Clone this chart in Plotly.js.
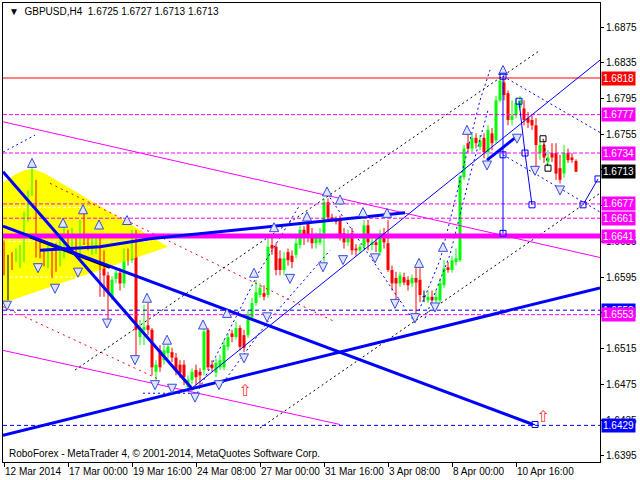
<!DOCTYPE html>
<html><head><meta charset="utf-8">
<script src="https://cdn.plot.ly/plotly-3.0.1.min.js"></script>
<style>html,body{margin:0;padding:0;background:#fff}#chart{width:640px;height:480px}</style>
</head><body><div id="chart"></div>
<script>
// ---- OHLC data (GBPUSD H4), bar index 0..143 ----
const openP = [
1.6634,1.6617,1.6617,1.6617,1.6616,1.6617,1.6662,1.6689,1.6700,1.6631,
1.6623,1.6611,1.6616,1.6629,1.6614,1.6622,1.6642,1.6631,1.6636,1.6625,
1.6653,1.6636,1.6625,1.6625,1.6634,1.6608,1.6597,1.6573,1.6593,1.6600,
1.6588,1.6622,1.6614,1.6644,1.6528,1.6536,1.6541,1.6536,1.6489,1.6513,
1.6502,1.6510,1.6511,1.6505,1.6497,1.6497,1.6472,1.6480,1.6491,1.6489,
1.6491,1.6536,1.6497,1.6488,1.6494,1.6494,1.6517,1.6532,1.6528,1.6538,
1.6530,1.6530,1.6550,1.6566,1.6575,1.6577,1.6575,1.6631,1.6629,1.6616,
1.6603,1.6623,1.6619,1.6620,1.6631,1.6648,1.6657,1.6642,1.6633,1.6634,
1.6644,1.6679,1.6662,1.6659,1.6659,1.6644,1.6634,1.6644,1.6627,1.6625,
1.6629,1.6653,1.6631,1.6634,1.6623,1.6644,1.6633,1.6603,1.6594,1.6588,
1.6595,1.6592,1.6588,1.6594,1.6592,1.6573,1.6569,1.6573,1.6569,1.6569,
1.6586,1.6606,1.6603,1.6612,1.6614,1.6707,1.6745,1.6739,1.6751,1.6741,
1.6751,1.6735,1.6756,1.6748,1.6793,1.6813,1.6801,1.6771,1.6776,1.6785,
1.6784,1.6773,1.6771,1.6765,1.6734,1.6743,1.6724,1.6734,1.6734,1.6717,
1.6711,1.6734,1.6729,1.6725];
const highP = [
1.6636,1.6620,1.6623,1.6627,1.6631,1.6668,1.6692,1.6717,1.6704,1.6639,
1.6627,1.6633,1.6625,1.6633,1.6642,1.6653,1.6648,1.6650,1.6641,1.6659,
1.6670,1.6641,1.6642,1.6641,1.6639,1.6625,1.6601,1.6596,1.6605,1.6605,
1.6627,1.6627,1.6648,1.6648,1.6547,1.6564,1.6566,1.6538,1.6502,1.6519,
1.6519,1.6521,1.6516,1.6510,1.6502,1.6502,1.6485,1.6493,1.6497,1.6493,
1.6538,1.6538,1.6502,1.6504,1.6508,1.6525,1.6532,1.6536,1.6545,1.6541,
1.6536,1.6558,1.6572,1.6592,1.6588,1.6586,1.6642,1.6639,1.6633,1.6625,
1.6623,1.6627,1.6625,1.6639,1.6653,1.6652,1.6661,1.6650,1.6645,1.6650,
1.6683,1.6683,1.6666,1.6663,1.6664,1.6650,1.6648,1.6650,1.6632,1.6632,
1.6659,1.6659,1.6639,1.6639,1.6648,1.6650,1.6659,1.6608,1.6601,1.6601,
1.6600,1.6596,1.6598,1.6605,1.6605,1.6580,1.6580,1.6580,1.6580,1.6594,
1.6614,1.6612,1.6619,1.6627,1.6709,1.6743,1.6756,1.6756,1.6756,1.6754,
1.6756,1.6765,1.6762,1.6798,1.6818,1.6817,1.6804,1.6793,1.6795,1.6798,
1.6793,1.6780,1.6776,1.6773,1.6748,1.6748,1.6737,1.6745,1.6745,1.6732,
1.6743,1.6739,1.6734,1.6727];
const lowP = [
1.6597,1.6569,1.6603,1.6612,1.6605,1.6612,1.6657,1.6686,1.6617,1.6616,
1.6607,1.6605,1.6594,1.6601,1.6607,1.6616,1.6625,1.6625,1.6620,1.6620,
1.6631,1.6625,1.6620,1.6621,1.6573,1.6573,1.6544,1.6569,1.6588,1.6580,
1.6583,1.6608,1.6611,1.6505,1.6519,1.6519,1.6530,1.6485,1.6478,1.6489,
1.6497,1.6504,1.6500,1.6485,1.6482,1.6474,1.6466,1.6475,1.6474,1.6471,
1.6485,1.6491,1.6489,1.6483,1.6491,1.6491,1.6513,1.6522,1.6525,1.6513,
1.6511,1.6527,1.6547,1.6563,1.6572,1.6569,1.6572,1.6620,1.6597,1.6597,
1.6597,1.6608,1.6605,1.6616,1.6627,1.6631,1.6634,1.6627,1.6627,1.6631,
1.6612,1.6659,1.6657,1.6654,1.6636,1.6627,1.6630,1.6620,1.6619,1.6622,
1.6625,1.6625,1.6625,1.6623,1.6619,1.6627,1.6601,1.6580,1.6569,1.6584,
1.6586,1.6580,1.6584,1.6553,1.6567,1.6567,1.6566,1.6566,1.6566,1.6566,
1.6583,1.6600,1.6600,1.6608,1.6612,1.6704,1.6735,1.6735,1.6739,1.6737,
1.6728,1.6726,1.6737,1.6745,1.6791,1.6793,1.6765,1.6765,1.6773,1.6782,
1.6765,1.6762,1.6760,1.6717,1.6726,1.6723,1.6719,1.6724,1.6704,1.6700,
1.6706,1.6723,1.6723,1.6713];
const closeP = [
1.6614,1.6617,1.6608,1.6623,1.6625,1.6662,1.6689,1.6700,1.6627,1.6623,
1.6614,1.6627,1.6612,1.6606,1.6636,1.6648,1.6633,1.6642,1.6625,1.6651,
1.6636,1.6631,1.6636,1.6636,1.6605,1.6597,1.6578,1.6592,1.6600,1.6588,
1.6623,1.6614,1.6644,1.6536,1.6538,1.6539,1.6536,1.6494,1.6497,1.6494,
1.6513,1.6517,1.6505,1.6491,1.6488,1.6483,1.6480,1.6489,1.6483,1.6485,
1.6534,1.6494,1.6493,1.6499,1.6502,1.6519,1.6528,1.6528,1.6538,1.6517,
1.6516,1.6553,1.6566,1.6578,1.6583,1.6573,1.6629,1.6627,1.6603,1.6603,
1.6616,1.6614,1.6612,1.6633,1.6648,1.6639,1.6640,1.6633,1.6639,1.6644,
1.6679,1.6662,1.6659,1.6657,1.6642,1.6634,1.6642,1.6625,1.6625,1.6629,
1.6653,1.6634,1.6634,1.6631,1.6642,1.6634,1.6603,1.6588,1.6588,1.6597,
1.6589,1.6586,1.6594,1.6589,1.6575,1.6573,1.6573,1.6569,1.6573,1.6588,
1.6605,1.6603,1.6614,1.6616,1.6707,1.6739,1.6739,1.6751,1.6745,1.6748,
1.6735,1.6760,1.6745,1.6793,1.6815,1.6799,1.6771,1.6776,1.6790,1.6793,
1.6771,1.6768,1.6765,1.6743,1.6743,1.6729,1.6729,1.6729,1.6711,1.6704,
1.6734,1.6726,1.6726,1.6713];

// ---- axis ticks ----
const xTickIdx = [0,16,32,48,64,80,96,112,128];
const xTickText = ['12 Mar 2014','17 Mar 00:00','19 Mar 16:00','24 Mar 08:00','27 Mar 00:00','31 Mar 16:00','3 Apr 08:00','8 Apr 00:00','10 Apr 16:00'];
const yTicks = [1.6875,1.6835,1.6795,1.6755,1.6715,1.6675,1.6635,1.6595,1.6555,1.6515,1.6475,1.6435,1.6395];
// tick labels that the price boxes cover completely in the reference
const yTicksHidden = [1.6715,1.6675,1.6555];

// ---- horizontal levels ----
const levelRed = [1.6818];
const levelMagentaDashed = [1.6777,1.6734,1.6677,1.6661,1.6553];
const levelMagentaThick = [1.6641];
const levelBlueDashed = [1.6558,1.6429];
const boxLevels = [1.6818,1.6777,1.6734,1.6713,1.6677,1.6661,1.6641,1.6558,1.6553,1.6429];
const boxColors = ['#ff0000','#ff00ff','#ff00ff','#000000','#ff00ff','#ff00ff','#ff00ff','#0000ff','#ff00ff','#0000ff'];

// ---- drawn objects: [barIndex, price] ----
const yellowZone = [[-0.25,1.6701],[2.75,1.6710],[5.25,1.6715],[7.25,1.6716],[10.25,1.6711],[41,1.6629],[-0.25,1.6566]];
const whiteDashed = [[[-0.25,1.6673],[21.5,1.6673]],[[-0.25,1.6635],[36.5,1.6635]],[[1.5,1.6595],[24,1.6595]]];
const thickBlue = [
  [[-0.25,1.6713],[47.25,1.6469]],
  [[-0.25,1.6652],[132.25,1.6430]],
  [[-0.25,1.6418],[149,1.6583]],
  [[9,1.6625],[24,1.6629],[36.5,1.6638],[100.25,1.6667]],
  [[120.75,1.6726],[127.75,1.6751]]
];
const thickBlack = [[[6.5,1.6640],[26.5,1.6606]]];
const thinBlue = [
  [[46.5,1.6469],[149,1.6838]],
  [[124.75,1.6820],[124.75,1.6644]],
  [[128.75,1.6792],[130.25,1.6734],[132,1.6676]],
  [[144.75,1.6676],[148.5,1.6705]],
  [[132.25,1.6430],[132.75,1.6430]]
];
const blueDashed = [
  [[124.75,1.6820],[149,1.6757]],
  [[124.75,1.6732],[149,1.6668]],
  [[-0.25,1.6735],[7.75,1.6754]],
  [[81.5,1.6684],[102.75,1.6544]],
  [[102.75,1.6547],[109,1.6614],[112.75,1.6681],[119,1.6793],[121.5,1.6827]],
  [[105.25,1.6549],[111.5,1.6620],[116.5,1.6709],[121,1.6782]],
  [[48.25,1.6465],[64,1.6603],[74,1.6676]],
  [[54,1.6472],[65.75,1.6544],[81.5,1.6625]],
  [[34.75,1.6465],[49,1.6465]]
];
const blackDashed = [
  [[17.75,1.6491],[134,1.6849]],
  [[64,1.6426],[149,1.6689]],
  [[134.75,1.6750],[136,1.6717]]
];
const redDotted = [
  [[11.5,1.6700],[82.75,1.6545]],
  [[-0.25,1.6562],[39,1.6480]]
];
const magentaThin = [
  [[-0.25,1.6769],[149,1.6617]],
  [[-0.25,1.6513],[84,1.6430]]
];
const upArrows = [[7,1.6728],[14.75,1.6661],[19.75,1.6676],[23.75,1.6659],[30.75,1.6664],[35.75,1.6577],[40.75,1.6530],[49.75,1.6547],[55.75,1.6560],[62.5,1.6605],[67.5,1.6656],[75.75,1.6668],[80.75,1.6696],[84,1.6687],[89.75,1.6673],[95.75,1.6672],[103.75,1.6616],[109.75,1.6634],[115.75,1.6765],[124.75,1.6832]];
const downArrows = [[0.75,1.6558],[8.5,1.6600],[12.75,1.6577],[18.5,1.6595],[25.75,1.6538],[32.75,1.6497],[37.75,1.6469],[42,1.6465],[47.75,1.6455],[53.75,1.6469],[60,1.6499],[65.75,1.6545],[71.5,1.6588],[79.75,1.6601],[84.75,1.6609],[92.75,1.6611],[97.75,1.6560],[102.75,1.6544],[107.75,1.6556],[120.75,1.6715],[128.25,1.6745],[132.75,1.6709],[139,1.6687]];
const blueSquares = [[124.75,1.6820],[128.75,1.6792],[130.25,1.6734],[132,1.6676],[124.75,1.6732],[124.75,1.6644],[144.75,1.6676],[148.5,1.6705],[132.75,1.6430]];
const blackSquares = [[134.75,1.6750],[136,1.6717]];
const redUpArrows = [[60.25,1.6466],[134.75,1.6437]];

const header = '\u25BC  GBPUSD,H4  1.6725 1.6727 1.6713 1.6713';
const footer = 'RoboForex - MetaTrader 4, \u00A9 2001-2014, MetaQuotes Software Corp.';

// ---- build traces ----
const XMIN = -0.25, XMAX = 149;
function segTrace(segs, color, width, dash) {
  const x = [], y = [];
  segs.forEach(s => { s.forEach(p => { x.push(p[0]); y.push(p[1]); }); x.push(null); y.push(null); });
  return {type:'scatter', mode:'lines', x, y, line:{color, width, dash: dash || 'solid'}, hoverinfo:'skip'};
}
function hSegs(levels) { return levels.map(l => [[XMIN,l],[XMAX,l]]); }
function markerTrace(pts, symbol, size, fill, lineColor) {
  return {type:'scatter', mode:'markers', x: pts.map(p=>p[0]), y: pts.map(p=>p[1]),
    marker:{symbol, size, color: fill, line:{color: lineColor, width:1}}, hoverinfo:'skip'};
}

const traces = [];
traces.push({type:'scatter', mode:'lines', x: yellowZone.map(p=>p[0]), y: yellowZone.map(p=>p[1]),
  fill:'toself', fillcolor:'#ffff00', line:{width:0, color:'#ffff00'}, hoverinfo:'skip'});
traces.push(segTrace(whiteDashed, '#ffffff', 1, '3px,2px'));

// candles
const GREEN = '#00ff00', RED = '#ff0000', DOJI = '#000000';
const wick = {g:{x:[],y:[]}, r:{x:[],y:[]}, k:{x:[],y:[]}};
const bodyX = [], bodyBase = [], bodyH = [], bodyC = [];
for (let i = 0; i < openP.length; i++) {
  const o = openP[i], c = closeP[i];
  const k = c > o ? 'g' : (c < o ? 'r' : 'k');
  wick[k].x.push(i, i, null); wick[k].y.push(highP[i], lowP[i], null);
  bodyX.push(i);
  const lo = Math.min(o, c), h = Math.abs(c - o);
  bodyBase.push(h < 0.0001 ? lo - 0.00005 : lo);
  bodyH.push(Math.max(h, 0.0001));
  bodyC.push(k === 'g' ? GREEN : (k === 'r' ? RED : DOJI));
}
[['g',GREEN],['r',RED],['k',DOJI]].forEach(([k,col]) => {
  traces.push({type:'scatter', mode:'lines', x: wick[k].x, y: wick[k].y, line:{color:col, width:1}, hoverinfo:'skip'});
});
traces.push({type:'bar', x: bodyX, y: bodyH, base: bodyBase, width: 0.75,
  marker:{color: bodyC, line:{width:0}}, hoverinfo:'skip'});

// levels & objects
traces.push(segTrace(magentaThin, '#ff00ff', 1));
traces.push(segTrace(redDotted, '#ff0000', 1, '2px,4px'));
traces.push(segTrace(blackDashed, '#000000', 1, '2px,3px'));
traces.push(segTrace(blueDashed, '#0000ff', 1, '2px,3px'));
traces.push(segTrace(hSegs(levelMagentaDashed), '#ff00ff', 1, '4px,2px'));
traces.push(segTrace(hSegs(levelBlueDashed), '#0000ff', 1, '4px,3px'));
traces.push(segTrace(hSegs(levelMagentaThick), '#ff00ff', 5));
traces.push(segTrace(hSegs(levelRed), '#ff0000', 1));
traces.push(segTrace(thinBlue, '#0000ff', 1));
traces.push(segTrace(thickBlack, '#000000', 3));
traces.push(segTrace(thickBlue, '#0000ff', 3));
traces.push(markerTrace(upArrows, 'arrow-up', 9, '#dfe4ff', '#3a4ad8'));
traces.push(markerTrace(downArrows, 'arrow-down', 9, '#dfe4ff', '#3a4ad8'));
traces.push(markerTrace(blueSquares, 'square-open', 6, '#0000ff', '#0000ff'));
traces.push(markerTrace(blackSquares, 'square-open', 6, '#000000', '#000000'));
traces.push({type:'scatter', mode:'text', x: redUpArrows.map(p=>p[0]), y: redUpArrows.map(p=>p[1]),
  text: redUpArrows.map(()=>'\u21E7'), textfont:{color:'#ff3030', size:16, family:'DejaVu Sans'}, hoverinfo:'skip'});

// annotations
const FONT = 'Liberation Sans, Arial, sans-serif';
const annotations = [];
boxLevels.forEach((lv, i) => {
  annotations.push({xref:'paper', x:1, xanchor:'left', xshift:1, yref:'y', y:lv, yanchor:'middle',
    text: lv.toFixed(4), showarrow:false, bgcolor: boxColors[i], borderpad:1,
    font:{color:'#ffffff', size:10, family:FONT}});
});
xTickIdx.forEach((t, i) => {
  annotations.push({xref:'x', x:t - 0.25, xanchor:'left', yref:'paper', y:0, yanchor:'top', yshift:-2,
    text: xTickText[i], showarrow:false, font:{color:'#000', size:10, family:FONT}});
});
annotations.push({xref:'paper', x:0.006, xanchor:'left', yref:'paper', y:0.997, yanchor:'top',
  text: header, showarrow:false, font:{color:'#000', size:10, family:FONT}});
annotations.push({xref:'paper', x:0.006, xanchor:'left', yref:'paper', y:0.003, yanchor:'bottom',
  text: footer, showarrow:false, font:{color:'#000', size:10, family:FONT}});

const layout = {
  width:640, height:480,
  margin:{l:3, r:40, t:3, b:18, pad:0},
  paper_bgcolor:'#ffffff', plot_bgcolor:'#ffffff',
  showlegend:false, barmode:'overlay',
  xaxis:{range:[XMIN, XMAX], showgrid:false, zeroline:false, showline:true, mirror:true,
    linecolor:'#000', linewidth:1, tickvals:xTickIdx, ticks:'outside', ticklen:4, tickcolor:'#000',
    showticklabels:false, fixedrange:true},
  yaxis:{range:[1.6388, 1.6902], side:'right', showgrid:false, zeroline:false, showline:true, mirror:true,
    linecolor:'#000', linewidth:1, tickvals:yTicks,
    ticktext:yTicks.map(v => yTicksHidden.includes(v) ? '' : v.toFixed(4)),
    ticks:'outside', ticklen:3, tickcolor:'#000', tickfont:{size:10, color:'#000', family:FONT}, fixedrange:true},
  annotations
};
Plotly.newPlot('chart', traces, layout, {staticPlot:true, displayModeBar:false});
</script>
</body></html>
